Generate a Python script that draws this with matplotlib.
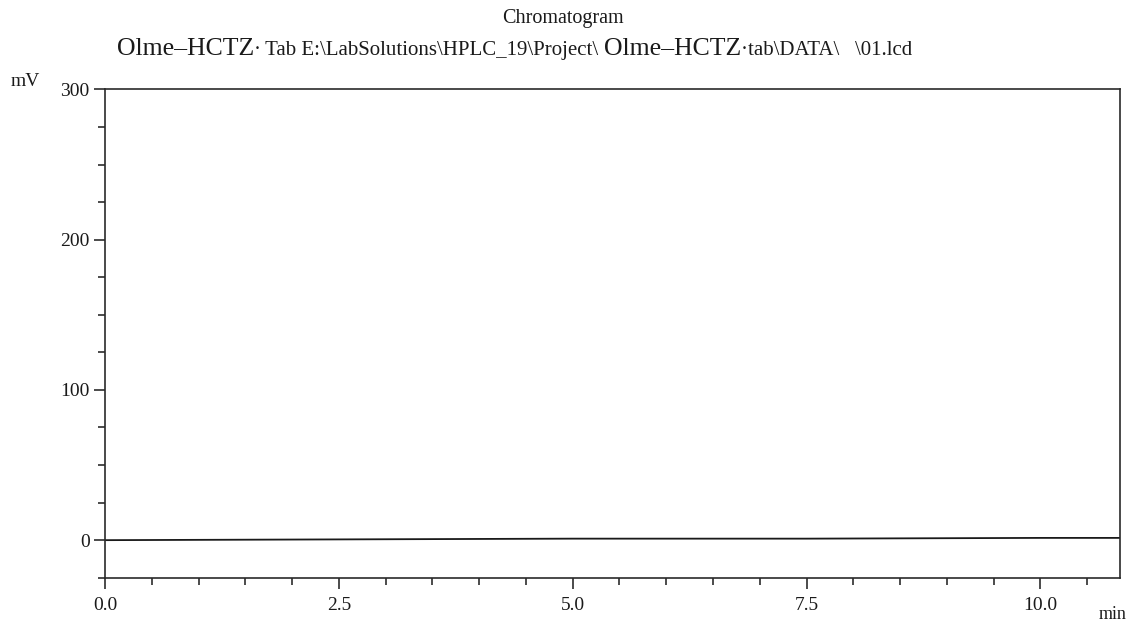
import matplotlib
matplotlib.use("Agg")
import matplotlib.pyplot as plt
from matplotlib.ticker import MultipleLocator, FixedLocator

# Data (flat baseline, no peaks)
time_min = [0.0, 2.5, 5.0, 7.5, 10.0, 10.85]
signal_mv = [0.0, 0.5, 1.0, 1.0, 1.5, 1.5]
x_ticks = [0.0, 2.5, 5.0, 7.5, 10.0]
x_tick_labels = ["0.0", "2.5", "5.0", "7.5", "10.0"]
y_ticks = [0, 100, 200, 300]
y_tick_labels = ["0", "100", "200", "300"]

plt.rcParams['font.family'] = ['Liberation Serif', 'DejaVu Serif']
INK = '#1a1a1a'

fig = plt.figure(figsize=(11.29, 6.30), dpi=100)
ax = fig.add_axes([0.093, 0.083, 0.899, 0.775])
ax.plot(time_min, signal_mv, color=INK, lw=1.3)
ax.set_xlim(0, 10.85)
ax.set_ylim(-25, 300)

ax.xaxis.set_major_locator(FixedLocator(x_ticks))
ax.set_xticklabels(x_tick_labels)
ax.xaxis.set_minor_locator(MultipleLocator(0.5))
ax.yaxis.set_major_locator(FixedLocator(y_ticks))
ax.set_yticklabels(y_tick_labels)
ax.yaxis.set_minor_locator(MultipleLocator(25))
ax.tick_params(which='both', direction='out', color=INK, width=1.1)
ax.tick_params(which='major', length=8, labelsize=14, pad=3, labelcolor=INK)
ax.tick_params(which='minor', length=5)
ax.tick_params(axis='x', which='major', pad=6)
for s in ax.spines.values():
    s.set_linewidth(1.2)
    s.set_color('#2a2a2a')

fig.text(0.009, 0.863, "mV", fontsize=14, color=INK, va='baseline')
fig.text(0.998, 0.018, "min", fontsize=13, color=INK, ha='right', va='baseline')

fig.text(0.499, 0.970, "Chromatogram", fontsize=14.5, ha='center', va='center', color=INK)

pieces = [("Olme\u2013HCTZ", 18.5), ("\u00b7\u2009Tab E:\\LabSolutions\\HPLC_19\\Project\\ ", 15),
          ("Olme\u2013HCTZ", 18.5), ("\u00b7tab\\DATA\\   \\01.lcd", 15)]
prev = fig.text(0.1036, 0.913, pieces[0][0], fontsize=pieces[0][1], va='baseline', color=INK)
for txt, fs in pieces[1:]:
    prev = ax.annotate(txt, xy=(1, 0), xycoords=prev, xytext=(0, 0), textcoords='offset points',
                       fontsize=fs, va='bottom', ha='left', color=INK,
                       annotation_clip=False)

fig.savefig("out.png", dpi=100)
